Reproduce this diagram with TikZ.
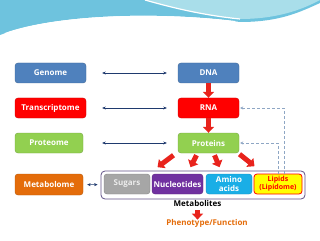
\documentclass[tikz,border=0pt]{standalone}
\usepackage{fontspec}
\setmainfont{Open Sans}
\usetikzlibrary{arrows.meta}
\definecolor{omicsblue}{HTML}{4F81BD}
\definecolor{omicsred}{HTML}{FF0000}
\definecolor{omicsgreen}{HTML}{92D050}
\definecolor{omicsorange}{HTML}{E46C0A}
\definecolor{sugargray}{HTML}{A6A6A6}
\definecolor{nucpurple}{HTML}{7030A0}
\definecolor{aminocyan}{HTML}{1AAEE6}
\definecolor{lipidyellow}{HTML}{FFFF00}
\definecolor{linkblue}{HTML}{1F3A6E}
\definecolor{dashblue}{HTML}{8EA6C4}
\definecolor{frameviolet}{HTML}{5F4F86}
\definecolor{blockred}{HTML}{E8231C}
\definecolor{waveblue}{HTML}{6EC3DE}
\definecolor{wavecyan}{HTML}{A9DEEA}

\begin{document}
\begin{tikzpicture}[x=1pt, y=-1pt,
		omics/.style={rounded corners=3pt, draw=#1!80!black, fill=#1, text=white, font=\fontsize{8}{9}\selectfont\bfseries, minimum height=20pt, inner sep=1pt, align=center},
		link/.style={linkblue, {Stealth[length=3.5pt,width=3pt]}-{Stealth[length=3.5pt,width=3pt]}},
		block/.style={blockred, line width=5pt, -{Triangle[length=6pt,width=11pt]}},
		dashlink/.style={dashblue, densely dashed, line width=0.7pt, -{Stealth[length=3pt,width=3pt]}}]
		\useasboundingbox (0,0) rectangle (320,240);
		% wave at the top
		\fill [waveblue] (0,0) -- (0,35) .. controls (60,12) and (170,12) .. (240,22) .. controls (280,22) and (300,12) .. (320,3) -- (320,0) -- cycle;
		\fill [wavecyan] (145,0) .. controls (180,10) and (210,16) .. (240,19) .. controls (280,19) and (305,8) .. (320,0) -- cycle;
		\draw [white, line width=1.2pt] (145,0) .. controls (180,10) and (210,16) .. (240,19);
		\draw [white, line width=2pt] (5,34) .. controls (60,14) and (170,14) .. (235,22);
		% left column
		\node [omics=omicsblue, minimum width=71pt] (genome) at (50.5,73) {Genome};
		\node [omics=omicsred, minimum width=71pt] (transcriptome) at (50.5,108) {Transcriptome};
		\node [omics=omicsgreen, minimum width=68pt] (proteome) at (49,143) {Proteome};
		\node [omics=omicsorange, minimum width=68pt, minimum height=21pt] (metabolome) at (49,184.5) {Metabolome};
		% right column
		\node [omics=omicsblue, minimum width=61pt] (dna) at (208.5,73) {DNA};
		\node [omics=omicsred, minimum width=61pt] (rna) at (208.5,108) {RNA};
		\node [omics=omicsgreen, minimum width=61pt] (proteins) at (208.5,143) {Proteins};
		\node [draw=frameviolet, line width=0.8pt, rounded corners=4pt, minimum width=204pt, minimum height=28pt] (metabolites) at (203,185) {};
		\node [omics=sugargray, minimum width=46pt] (sugars) at (127,184) {\color{white!85!gray}Sugars};
		\node [omics=nucpurple, minimum width=51pt] (nucleotides) at (177.5,184) {Nucleotides};
		\node [omics=aminocyan, minimum width=46pt] (amino) at (229,184) {Amino\\acids};
		\node [omics=lipidyellow, draw=omicsred, line width=0.8pt, text=omicsred, minimum width=48pt, font=\fontsize{7}{8}\selectfont\bfseries] (lipids) at (278,184) {Lipids\\(Lipidome)};
		\node [font=\fontsize{8}{9}\selectfont\bfseries] (label) at (197.5,203.5) {Metabolites};
		\node [text=omicsorange, font=\fontsize{8}{9}\selectfont\bfseries] (phenotype) at (207,223.5) {Phenotype/Function};
		% links between the levels
		\draw [link, shorten <=16pt, shorten >=11pt] (genome) -- (dna);
		\draw [link, shorten <=16pt, shorten >=11pt] (transcriptome) -- (rna);
		\draw [link, shorten <=19pt, shorten >=11pt] (proteome) -- (proteins);
		\draw [link, shorten <=4pt, shorten >=3pt] (metabolome) -- (metabolites);
		\draw [block] (dna) -- (rna);
		\draw [block] (rna) -- (proteins);
		\draw [block] ([xshift=-35pt,yshift=-2pt]proteins.south) -- ++(-16,12);
		\draw [block] ([xshift=-12pt,yshift=-2pt]proteins.south) -- ++(-6,12);
		\draw [block] ([xshift=6pt,yshift=-2pt]proteins.south) -- ++(5,12);
		\draw [block] ([xshift=31pt,yshift=-1pt]proteins.south) -- ++(15,12);
		\draw [block] (label.south) -- ++(0,9.5);
		\draw [dashlink, shorten >=1pt] ([xshift=6pt]lipids.north) |- (rna.east);
		\draw [dashlink, shorten >=1pt] (lipids.north) |- (proteins.east);
	\end{tikzpicture}
\end{document}
